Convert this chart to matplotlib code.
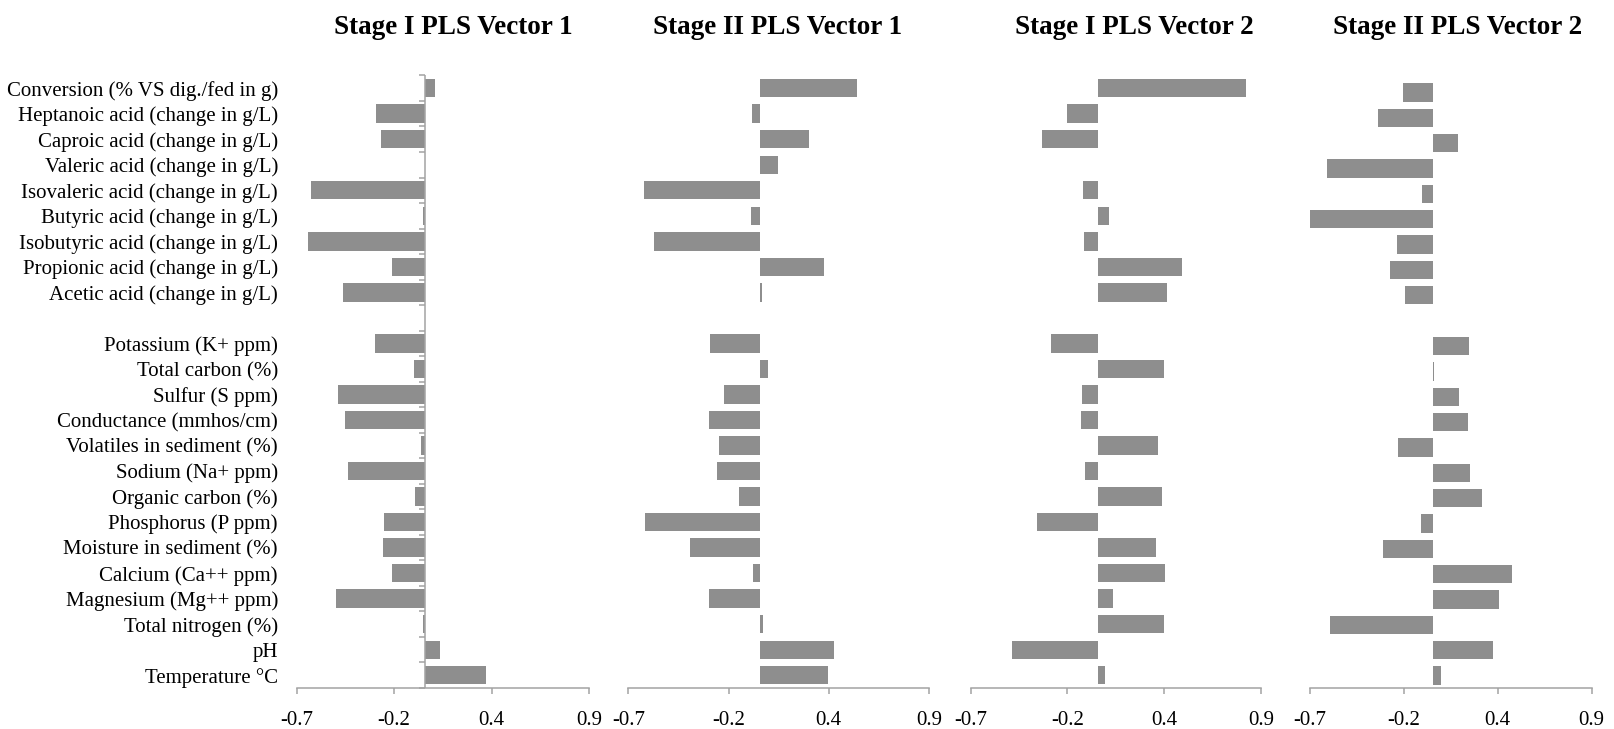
import numpy as np
import matplotlib
matplotlib.use("Agg")
import matplotlib.pyplot as plt

plt.rcParams["font.family"] = ["Liberation Serif", "DejaVu Serif"]

# Row labels, top to bottom (the two groups are separated by one empty row)
acid_labels = [
    "Conversion (% VS dig./fed in g)",
    "Heptanoic acid (change in g/L)",
    "Caproic acid (change in g/L)",
    "Valeric acid (change in g/L)",
    "Isovaleric acid (change in g/L)",
    "Butyric acid (change in g/L)",
    "Isobutyric acid (change in g/L)",
    "Propionic acid (change in g/L)",
    "Acetic acid (change in g/L)",
]
sediment_labels = [
    "Potassium (K+ ppm)",
    "Total carbon (%)",
    "Sulfur (S ppm)",
    "Conductance (mmhos/cm)",
    "Volatiles in sediment (%)",
    "Sodium (Na+ ppm)",
    "Organic carbon (%)",
    "Phosphorus (P ppm)",
    "Moisture in sediment (%)",
    "Calcium (Ca++ ppm)",
    "Magnesium (Mg++ ppm)",
    "Total nitrogen (%)",
    "pH",
    "Temperature \u00b0C",
]

titles = [
    "Stage I PLS Vector 1",
    "Stage II PLS Vector 1",
    "Stage I PLS Vector 2",
    "Stage II PLS Vector 2",
]

# PLS loadings, same order as the labels (acids first, then sediment)
stage1_vector1 = [0.056, -0.266, -0.236, 0.0, -0.623, -0.011, -0.636, -0.180, -0.444,
                  -0.273, -0.059, -0.476, -0.437, -0.020, -0.420, -0.054, -0.223,
                  -0.225, -0.180, -0.485, -0.011, 0.084, 0.334]
stage2_vector1 = [0.519, -0.043, 0.259, 0.095, -0.615, -0.049, -0.562, 0.341, 0.010,
                  -0.266, 0.044, -0.190, -0.269, -0.220, -0.229, -0.112, -0.610,
                  -0.372, -0.034, -0.273, 0.019, 0.392, 0.365]
stage1_vector2 = [0.815, -0.168, -0.305, 0.0, -0.079, 0.063, -0.073, 0.462, 0.383,
                  -0.256, 0.367, -0.085, -0.093, 0.330, -0.069, 0.356, -0.335,
                  0.321, 0.370, 0.084, 0.363, -0.471, 0.039]
stage2_vector2 = [-0.174, -0.315, 0.142, -0.602, -0.066, -0.702, -0.204, -0.248, -0.163,
                  0.204, 0.006, 0.145, 0.200, -0.201, 0.208, 0.276, -0.070,
                  -0.286, 0.450, 0.375, -0.589, 0.341, 0.045]

series = [stage1_vector1, stage2_vector1, stage1_vector2, stage2_vector2]

x_min, x_max = -0.7, 0.9
xticks = np.linspace(x_min, x_max, 4)
xtick_labels = [f"{t:.1f}" for t in xticks]

labels = acid_labels + sediment_labels
rows = np.concatenate([np.arange(len(acid_labels)),
                       np.arange(len(sediment_labels)) + len(acid_labels) + 1])
n_rows = len(acid_labels) + 1 + len(sediment_labels)

BAR = "#8e8e8e"
AXIS = "#a3a3a3"

W, H = 1614, 729
fig = plt.figure(figsize=(W / 100, H / 100), dpi=100)

# panel extents in pixels: (left, right, top, bottom)
extents = [
    (296.7, 589.0, 75.4, 688.0),
    (628.3, 929.0, 75.4, 688.0),
    (970.7, 1261.0, 75.4, 688.0),
    (1310.0, 1591.7, 79.8, 688.3),
]
title_x = [453, 778, 1134, 1458]

for i, (vals, (l, r, t, b)) in enumerate(zip(series, extents)):
    ax = fig.add_axes([l / W, (H - b) / H, (r - l) / W, (b - t) / H])
    ax.barh(rows, vals, height=0.72, color=BAR, edgecolor="none", zorder=2)
    ax.set_xlim(x_min, x_max)
    ax.set_ylim(n_rows - 0.5, -0.5)

    for side in ("top", "right", "left"):
        ax.spines[side].set_visible(False)
    ax.spines["bottom"].set_color(AXIS)
    ax.spines["bottom"].set_linewidth(1.1)

    ax.set_xticks(xticks)
    ax.set_xticklabels(xtick_labels)
    ax.tick_params(axis="x", length=4, width=1.1, color=AXIS, labelsize=15,
                   pad=12.5, labelcolor="black")

    if i == 0:
        ax.set_yticks(rows)
        ax.set_yticklabels(labels)
        ax.tick_params(axis="y", length=0, labelsize=15, pad=13.5)
        # value axis drawn through zero, with tick marks between categories
        ax.axvline(0, color=AXIS, lw=1.1, zorder=3)
        bounds = np.arange(n_rows + 1) - 0.5
        ax.plot(np.zeros_like(bounds), bounds, linestyle="none", marker=0,
                markersize=4.5, markeredgewidth=1.1, color=AXIS, zorder=3,
                clip_on=False)
    else:
        ax.set_yticks([])

    fig.text(title_x[i] / W, (H - 33.5) / H, titles[i], ha="center",
             va="baseline", fontsize=19.5, fontweight="bold")

fig.savefig("out.png", dpi=100, facecolor="white")
